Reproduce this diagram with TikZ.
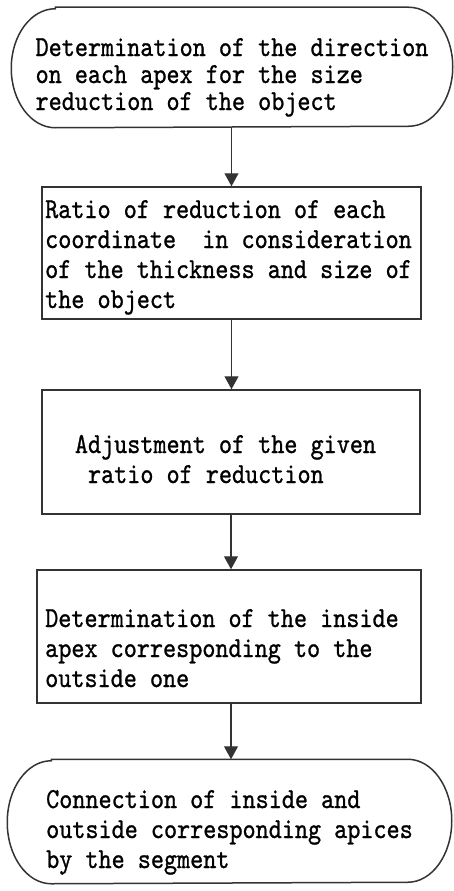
\documentclass[tikz,border=0pt]{standalone}
\usepackage{fontspec}
\usepackage{tikz}
\usetikzlibrary{arrows.meta}
\newfontfamily\flowfont[FakeStretch=0.86,FakeBold=0.9]{lmmono10-regular.otf}

\begin{document}
\begin{tikzpicture}[x=1pt,y=-1pt,
  box/.style={draw=black!80,line width=1.5pt,align=left,inner sep=0pt,text depth=0pt,font=\flowfont\fontsize{29}{30}\selectfont},
  endbox/.style={box,draw=none},
  flow/.style={draw=black!80,line width=1.2pt,-{Triangle[width=14pt,length=13pt]}}]
\useasboundingbox (0,0) rectangle (454,891);

\node[endbox,minimum width=440pt,minimum height=119pt,text height=85pt,font=\flowfont\fontsize{29}{27}\selectfont] (start) at (232,67.5)
  {Determination of the direction\\on each apex for the size\\reduction of the object};
\draw[draw=black!80,line width=1.5pt] ([xshift=44pt]start.north west) -- ([xshift=-44pt]start.north east)
  arc[start angle=90,end angle=-90,x radius=44pt,y radius=59.5pt]
  -- ([xshift=44pt]start.south west)
  arc[start angle=270,end angle=90,x radius=44pt,y radius=59.5pt] -- cycle;

\node[box,minimum width=379pt,minimum height=132pt,text height=110pt] (ratio) at (231.5,253)
  {Ratio of reduction of each\\coordinate\ \ in consideration\makebox[6pt]{}\\of the thickness and size of\\the object};

\node[box,minimum width=378pt,minimum height=124pt,text height=62pt] (adjust) at (231,452)
  {Adjustment of the given\makebox[11pt]{}\\\ ratio of reduction};

\node[box,minimum width=384pt,minimum height=133pt,text height=101pt] (inside) at (229,636.5)
  {Determination of the inside\makebox[14pt]{}\\apex corresponding to the\\outside one};

\node[endbox,minimum width=443pt,minimum height=123pt,text height=93pt] (connect) at (229.5,821.5)
  {Connection of inside and\\outside corresponding apices\\by the segment};
\draw[draw=black!80,line width=1.5pt] ([xshift=44pt]connect.north west) -- ([xshift=-44pt]connect.north east)
  arc[start angle=90,end angle=-90,x radius=44pt,y radius=61.5pt]
  -- ([xshift=44pt]connect.south west)
  arc[start angle=270,end angle=90,x radius=44pt,y radius=61.5pt] -- cycle;

\draw[flow] (ratio.north |- start.south) -- (ratio.north);
\draw[flow] (ratio.south) -- (ratio.south |- adjust.north);
\draw[flow] (adjust.south) -- (adjust.south |- inside.north);
\draw[flow] (adjust.south |- inside.south) -- (adjust.south |- connect.north);
\end{tikzpicture}
\end{document}
